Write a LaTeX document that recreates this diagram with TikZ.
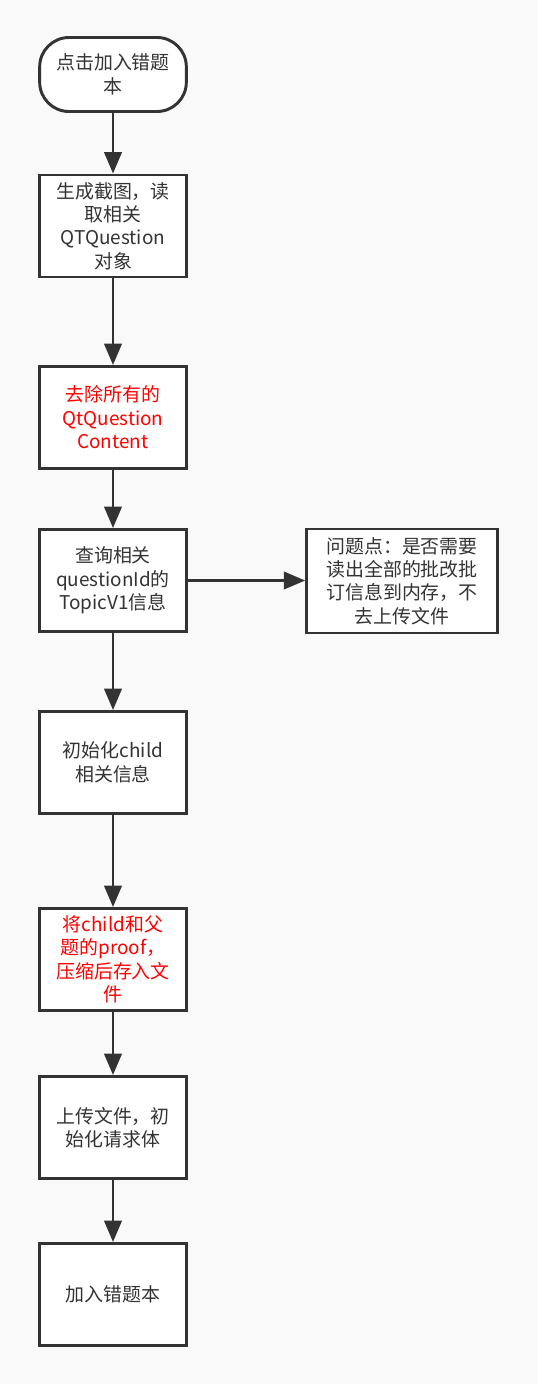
\documentclass[tikz,border=0pt]{standalone}
\usepackage{fontspec}
\setmainfont{Noto Sans CJK SC}
\usetikzlibrary{arrows.meta}
\definecolor{ink}{HTML}{333333}
\definecolor{paper}{HTML}{F9F9F9}
\definecolor{alert}{HTML}{FF0000}

\begin{document}
\begin{tikzpicture}[x=0.75pt, y=-0.75pt,
    box/.style={draw=ink, line width=2.2pt, fill=white, text=ink,
        minimum width=110pt, minimum height=76.5pt, inner sep=2pt,
        align=center, font=\fontsize{14.2}{17.6}\selectfont},
    flow/.style={draw=ink, line width=2.2pt,
        -{Triangle[length=16pt, width=13pt]}}]
    \fill[paper] (0,0) rectangle (537,1384);
    \useasboundingbox (0,0) rectangle (537,1384);

    \node[box, rounded corners=22pt, minimum height=55.5pt] (start) at (113,74.5)
        {点击加入错题\\本};
    \node[box] (shot)   at (113,226)   {生成截图，读\\取相关\\QTQuestion\\对象};
    \node[box, text=alert] (strip) at (113,417.5) {去除所有的\\QtQuestion\\Content};
    \node[box] (query)  at (113,580.5) {查询相关\\questionId的\\TopicV1信息};
    \node[box, minimum width=143pt, minimum height=78pt] (issue) at (402,581)
        {问题点：是否需要\\读出全部的批改批\\订信息到内存，不\\去上传文件};
    \node[box] (child)  at (113,762.5) {初始化child\\相关信息};
    \node[box, text=alert] (pack) at (113,959.5) {将child和父\\题的proof，\\压缩后存入文\\件};
    \node[box] (upload) at (113,1127.5) {上传文件，初\\始化请求体};
    \node[box] (add)    at (113,1294.5) {加入错题本};

    \draw[flow] (start) -- (shot);
    \draw[flow] (shot) -- (strip);
    \draw[flow] (strip) -- (query);
    \draw[flow] (query.east) -- (query.east -| issue.west);
    \draw[flow] (query) -- (child);
    \draw[flow] (child) -- (pack);
    \draw[flow] (pack) -- (upload);
    \draw[flow] (upload) -- (add);
\end{tikzpicture}
\end{document}
